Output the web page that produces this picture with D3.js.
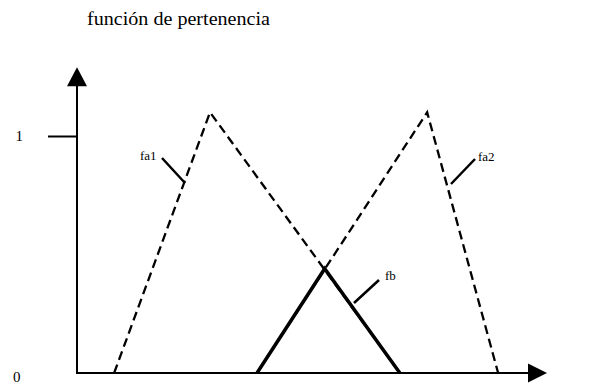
<html>
<head>
    <script src="https://d3js.org/d3.v7.min.js"></script>
    <meta charset="utf-8">
    <style>
	body{
	    margin: 0;
	    background-color: #FFFFFF;
	}
	.axis line, .axis path{
	    fill: none;
	    stroke: black;
	    stroke-width: 2;
	}
	.axis text, .label{
	    font-family: "Liberation Serif", "DejaVu Serif", serif;
	    fill: black;
	}
	.fa{
	    fill: none;
	    stroke: black;
	    stroke-width: 2.3;
	    stroke-dasharray: 9,5;
	}
	.fb{
	    fill: none;
	    stroke: black;
	    stroke-width: 3.5;
	    stroke-linejoin: miter;
	}
    </style>
</head>
<body>
<script>
// membership functions (x in universe units 0..100, y in membership degree)
var fa1X = [7.9, 28.3, 68.7];
var fa1Y = [0, 1.1, 0];
var fa2X = [38.3, 74.5, 89.6];
var fa2Y = [0, 1.1, 0];
var fbX = [38.3, 52.7, 68.7];
var fbY = [0, 0.44, 0];

var yTicks = [1];
var yTickLabels = ["1"];
var originLabel = "0";
var seriesNames = ["fa1", "fa2", "fb"];
var title = "función de pertenencia";

// ** SVG canvas parameters
var width = 594;
var height = 385;

var xScale = d3.scaleLinear().domain([0, 100]).range([77, 547]);
var yScale = d3.scaleLinear().domain([0, 1]).range([373, 136]);

var svg = d3.select("body").append("svg")
    .attr("width", width)
    .attr("height", height);

function toPoints(xs, ys){
    return xs.map(function(x, i){ return [x, ys[i]]; });
}

var line = d3.line()
    .x(function(d){ return xScale(d[0]); })
    .y(function(d){ return yScale(d[1]); });

// *** Axes
var yAxis = d3.axisLeft(yScale)
    .tickValues(yTicks)
    .tickSize(29)
    .tickPadding(25)
    .tickFormat(function(d, i){ return yTickLabels[i]; });

var yAxisG = svg.append("g")
    .attr("class", "axis")
    .attr("transform", "translate(" + xScale(0) + ",0)")
    .call(yAxis);
yAxisG.select(".domain").remove();
yAxisG.selectAll("text").style("font-size", "15px");

var axes = svg.append("g").attr("class", "axis");
var yTop = 1.29;   // arrow tip of vertical axis
axes.append("line")
    .attr("x1", xScale(0)).attr("y1", yScale(0) + 1)
    .attr("x2", xScale(0)).attr("y2", yScale(yTop) + 10);
axes.append("line")
    .attr("x1", xScale(0) - 1).attr("y1", yScale(0))
    .attr("x2", xScale(100) - 10).attr("y2", yScale(0));

// arrow heads
axes.append("path")
    .attr("d", "M" + xScale(0) + "," + yScale(yTop) +
	  "L" + (xScale(0) + 10) + "," + (yScale(yTop) + 19) +
	  "L" + (xScale(0) - 10) + "," + (yScale(yTop) + 19) + "Z")
    .style("fill", "black").style("stroke", "none");
axes.append("path")
    .attr("d", "M" + xScale(100) + "," + yScale(0) +
	  "L" + (xScale(100) - 19) + "," + (yScale(0) - 9.5) +
	  "L" + (xScale(100) - 19) + "," + (yScale(0) + 9.5) + "Z")
    .style("fill", "black").style("stroke", "none");

svg.append("text")
    .attr("class", "label")
    .attr("x", 13).attr("y", 382)
    .style("font-size", "15px")
    .text(originLabel);

// *** Curves
svg.append("path").attr("class", "fa").attr("d", line(toPoints(fa1X, fa1Y)));
svg.append("path").attr("class", "fa").attr("d", line(toPoints(fa2X, fa2Y)));
svg.append("path").attr("class", "fb").attr("d", line(toPoints(fbX, fbY)));

// *** Labels with leader lines
var labels = [
    { tx: 140, ty: 160, x1: 162, y1: 158, x2: 185, y2: 183 },
    { tx: 478, ty: 161, x1: 475, y1: 159, x2: 451, y2: 184 },
    { tx: 385, ty: 280, x1: 379, y1: 280, x2: 354, y2: 303 }
];

labels.forEach(function(l, i){
    svg.append("line")
	.attr("x1", l.x1).attr("y1", l.y1)
	.attr("x2", l.x2).attr("y2", l.y2)
	.attr("stroke", "black")
	.attr("stroke-width", 2.5);
    svg.append("text")
	.attr("class", "label")
	.attr("x", l.tx).attr("y", l.ty)
	.style("font-size", "13px")
	.text(seriesNames[i]);
});

// *** Title
svg.append("text")
    .attr("class", "label")
    .attr("x", 87).attr("y", 25)
    .style("font-size", "18px")
    .attr("textLength", 183)
    .attr("lengthAdjust", "spacingAndGlyphs")
    .text(title);
</script>
</body>
</html>
